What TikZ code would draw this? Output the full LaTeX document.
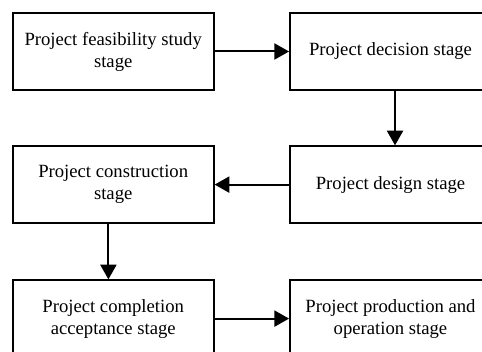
\documentclass[tikz,border=0pt]{standalone}
\usepackage{fontspec}
\setmainfont{Liberation Serif}
\usetikzlibrary{arrows.meta}

\tikzset{every picture/.style={line width=1.4pt}}
\tikzset{
  stagebox/.style={draw, line width=1.4pt, minimum width=150.75pt, minimum height=57.45pt,
    inner sep=0pt, align=center, font=\fontsize{14}{16.5}\selectfont},
  flowarrow/.style={line width=1.5pt, -{Triangle[length=11pt,width=12pt]}}
}

\begin{document}
\begin{tikzpicture}[x=0.75pt,y=0.75pt,yscale=-1,xscale=1]
    \useasboundingbox (0,0) rectangle (482,352);
    \clip (0,0) rectangle (482,352);

    %Shape: Rectangle [feasibility]
    \node [stagebox] (feasibility) at (113.2,51.5) {Project feasibility study\\stage};
    %Shape: Rectangle [decision]
    \node [stagebox] (decision) at (390.5,51.5) {Project decision stage};
    %Shape: Rectangle [design]
    \node [stagebox] (design) at (390.5,184.6) {Project design stage};
    %Shape: Rectangle [construction]
    \node [stagebox] (construction) at (113.2,184.6) {Project construction\\stage};
    %Shape: Rectangle [completion]
    \node [stagebox] (completion) at (113.2,318.6) {Project completion\\acceptance stage};
    %Shape: Rectangle [production]
    \node [stagebox] (production) at (390.5,318.6) {Project production and\\operation stage};

    %Straight Lines
    \draw [flowarrow] (feasibility) -- (decision);
    \draw [flowarrow] ([xshift=3.4pt]decision.south) -- ([xshift=3.4pt]design.north);
    \draw [flowarrow] (design) -- (construction);
    \draw [flowarrow] ([xshift=-3.6pt]construction.south) -- ([xshift=-3.6pt]completion.north);
    \draw [flowarrow] (completion) -- (production);

\end{tikzpicture}
\end{document}
